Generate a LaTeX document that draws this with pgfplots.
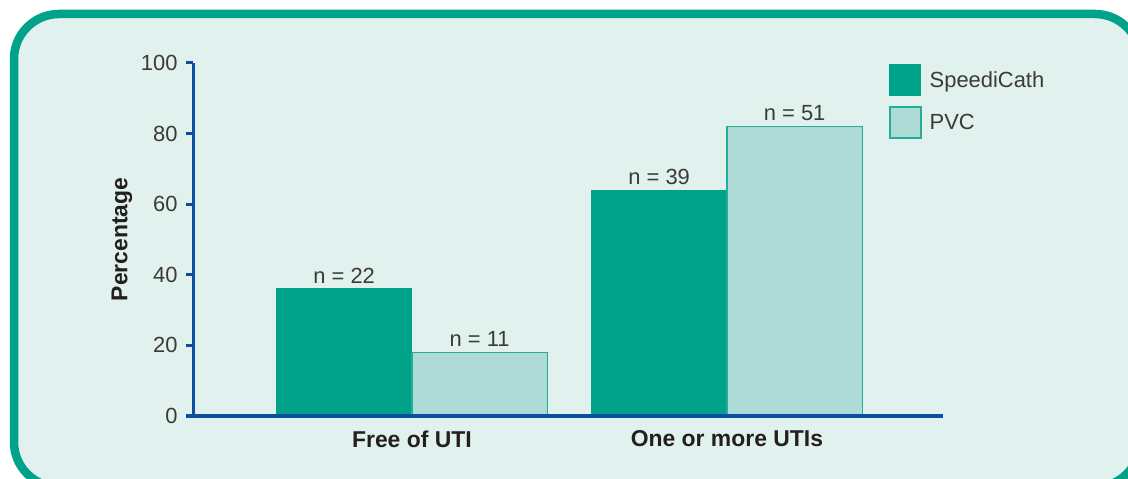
\documentclass[border=0pt]{standalone}
\usepackage{pgfplots}
\pgfplotsset{compat=1.18}
\usepackage{fontspec}
\setmainfont{Liberation Sans}
\definecolor{tealb}{HTML}{00A38A}
\definecolor{bgc}{HTML}{E1F1EE}
\definecolor{pvcfill}{HTML}{AEDBD5}
\definecolor{pvcedge}{HTML}{22AE97}
\definecolor{axisblue}{HTML}{0B4EA2}
\definecolor{txt}{HTML}{3A3A3A}
\definecolor{btxt}{HTML}{231F20}
\newcommand\rfont{\fontsize{22}{26}\selectfont}
\newcommand\bfont{\fontsize{23}{27}\selectfont\bfseries}
\pgfplotsset{sqlegend/.style={legend image code/.code={\draw[##1] (0bp,-15.5bp) rectangle (31bp,15.5bp);}}}
\begin{document}
\begin{tikzpicture}
\useasboundingbox (0,0) rectangle (1128bp,479bp);
\fill[white] (0,0) rectangle (1128bp,479bp);
\begin{scope}
\clip (0,0) rectangle (1128bp,479bp);
\draw[draw=tealb, fill=bgc, line width=8.5bp, rounded corners=45bp] (14bp,465bp) rectangle (1140bp,-8bp);
\end{scope}
\begin{axis}[
  at={(193bp,63bp)}, anchor=south west,
  width=750bp, height=353bp, scale only axis,
  xmin=-0.695, xmax=1.686, ymin=0, ymax=100,
  axis on top,
  axis x line*=bottom, axis y line*=left,
  every outer x axis line/.append style={-, draw=axisblue, line width=3bp},
  every outer y axis line/.append style={-, draw=axisblue, line width=3bp},
  axis line style={draw=axisblue, line width=3bp},
  ybar=0pt, bar width=135.5bp,
  xtick={0,1}, xticklabels={Free of UTI, One or more UTIs},
  x tick style={draw=none},
  xticklabel style={font=\bfont, text=btxt, yshift=-4bp},
  ytick={20,40,60,80,100}, yticklabels={20,40,60,80,100},
  extra y ticks={0}, extra y tick labels={0},
  extra y tick style={tick style={draw=none}},
  yticklabel style={font=\rfont, text=txt, xshift=-5bp},
  tick align=outside, major tick length=7bp,
  every tick/.append style={draw=axisblue, line width=3bp},
  y tick style={draw=axisblue, line width=3bp},
  ylabel={Percentage},
  every axis y label/.style={at={(axis description cs:-0.0947,0.5)}, rotate=90, anchor=center, font=\bfont, text=btxt},
  point meta=explicit symbolic,
  nodes near coords={n = \pgfplotspointmeta},
  every node near coord/.append style={font=\rfont, text=txt, anchor=south, yshift=2bp},
  legend style={at={(rel axis cs:0.928,0.997)}, anchor=north west, draw=none, fill=none, inner sep=0pt, row sep=10bp, font=\rfont, text=txt,
    nodes={inner xsep=0pt}, /tikz/every odd column/.append style={column sep=8bp}},
  legend cell align=left,
  clip=false,
]
\addplot[fill=tealb, draw=tealb, line width=1bp, sqlegend]
  coordinates {(0,36) [22] (1,64) [39]};
\addlegendentry{SpeediCath}
\addplot[fill=pvcfill, draw=pvcedge, line width=1.5bp, sqlegend]
  coordinates {(0,18) [11] (1,82) [51]};
\addlegendentry{PVC}
\end{axis}
\end{tikzpicture}
\end{document}
